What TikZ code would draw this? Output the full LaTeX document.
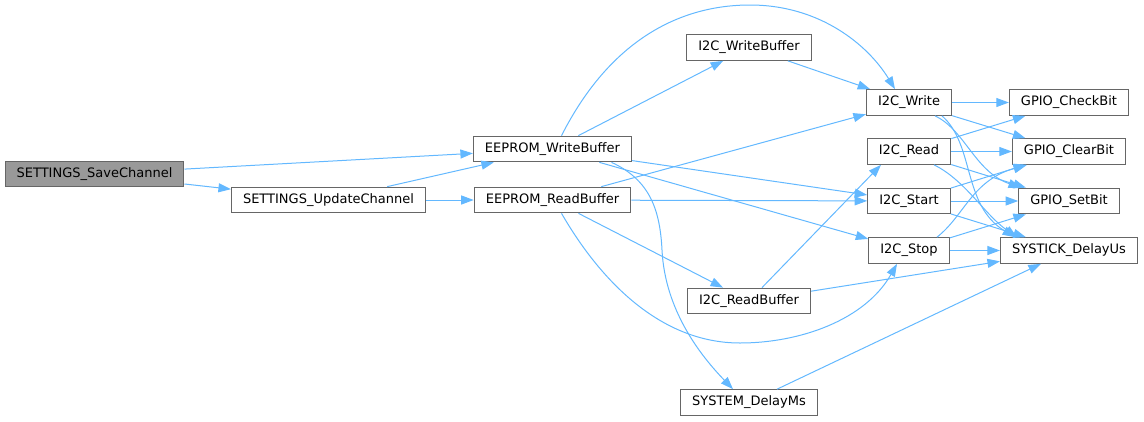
\documentclass[tikz,border=0pt]{standalone}
\usepackage{fontspec}
\setmainfont{DejaVu Sans}
\usepackage{xcolor}
\usetikzlibrary{arrows.meta}
\definecolor{edge-blue}{HTML}{63B8FF}
\definecolor{box-gray}{HTML}{666666}
\definecolor{root-gray}{HTML}{999999}

\begin{document}
\begin{tikzpicture}[x=1pt, y=-1pt,
      every node/.style={font=\fontsize{13}{15}\selectfont},
      fn/.style={draw=box-gray, line width=1.2pt, fill=white, inner xsep=11.5pt,
                 inner ysep=0pt, minimum height=25.5pt},
      root/.style={fn, fill=root-gray},
      call/.style={edge-blue, line width=1pt, -{Triangle[length=12.5pt,width=9pt]}}]
    \useasboundingbox (0,0) rectangle (1144,421);
    \node[root] (save) at (94.5,174) {SETTINGS\_SaveChannel};
    \node[fn] (update) at (328.5,200) {SETTINGS\_UpdateChannel};
    \node[fn] (wbuf) at (552.5,149) {EEPROM\_WriteBuffer};
    \node[fn] (rbuf) at (552.5,200) {EEPROM\_ReadBuffer};
    \node[fn] (i2cwbuf) at (749,47.5) {I2C\_WriteBuffer};
    \node[fn] (i2crbuf) at (749,301) {I2C\_ReadBuffer};
    \node[fn] (delayms) at (749,402.5) {SYSTEM\_DelayMs};
    \node[fn] (i2cwrite) at (909,102.5) {I2C\_Write};
    \node[fn] (i2cread) at (909,151.5) {I2C\_Read};
    \node[fn] (i2cstart) at (909,201) {I2C\_Start};
    \node[fn] (i2cstop) at (909,250.5) {I2C\_Stop};
    \node[fn] (checkbit) at (1069,102.5) {GPIO\_CheckBit};
    \node[fn] (clearbit) at (1069,151.5) {GPIO\_ClearBit};
    \node[fn] (setbit) at (1069,201) {GPIO\_SetBit};
    \node[fn] (delayus) at (1069,250.5) {SYSTICK\_DelayUs};

    \draw[call] (save) -- (wbuf);
    \draw[call] (save) -- (update);
    \draw[call] (update) -- (wbuf);
    \draw[call] (update) -- (rbuf);
    \draw[call] ([xshift=9pt]wbuf.north) .. controls (610,40) and (680,5) .. (750,5)
          .. controls (820,5) and (868,45) .. ([xshift=-14pt]i2cwrite.north);
    \draw[call] (wbuf) -- (i2cwbuf);
    \draw[call] (wbuf) -- (i2cstart);
    \draw[call] (wbuf) -- (i2cstop);
    \draw[call] ([xshift=59pt]wbuf.south) .. controls (650,180) and (660,210) .. (662,250)
          .. controls (665,310) and (700,355) .. ([xshift=-16pt]delayms.north);
    \draw[call] (rbuf) -- (i2cwrite);
    \draw[call] (rbuf) -- (i2cstart);
    \draw[call] (rbuf) -- (i2crbuf);
    \draw[call] ([xshift=9pt]rbuf.south) .. controls (600,280) and (660,343) .. (740,343)
          .. controls (800,343) and (865,320) .. ([xshift=-12pt]i2cstop.south);
    \draw[call] (i2cwbuf) -- (i2cwrite);
    \draw[call] (i2crbuf) -- ([xshift=-28pt]i2cread.south);
    \draw[call] (i2crbuf) -- (delayus);
    \draw[call] (delayms) -- (delayus);
    \draw[call] (i2cwrite) -- (checkbit);
    \draw[call] (i2cwrite) -- (clearbit);
    \draw[call] ([xshift=26pt]i2cwrite.south) .. controls (965,130) and (975,172)
          .. ([xshift=-48pt]setbit.north);
    \draw[call] ([xshift=33pt]i2cwrite.south) .. controls (975,145) and (962,205)
          .. ([xshift=-54pt]delayus.north);
    \draw[call] (i2cread) -- (checkbit);
    \draw[call] (i2cread) -- (clearbit);
    \draw[call] (i2cread) -- (setbit);
    \draw[call] ([xshift=25pt]i2cread.south) .. controls (965,180) and (985,215)
          .. ([xshift=-52pt]delayus.north);
    \draw[call] (i2cstart) -- (clearbit);
    \draw[call] (i2cstart) -- (setbit);
    \draw[call] (i2cstart) -- (delayus);
    \draw[call] ([xshift=28pt]i2cstop.north) .. controls (965,215) and (972,180)
          .. ([xshift=-42pt]clearbit.south);
    \draw[call] (i2cstop) -- (setbit);
    \draw[call] (i2cstop) -- (delayus);
  \end{tikzpicture}
\end{document}
